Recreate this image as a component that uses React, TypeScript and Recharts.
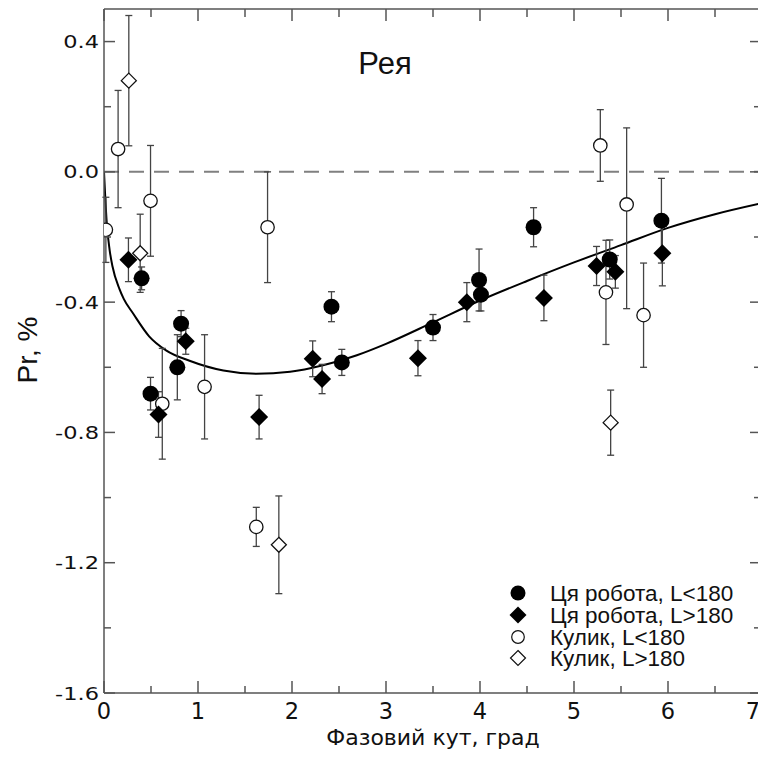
import React from "react";
import {
  ComposedChart,
  XAxis,
  YAxis,
  Scatter,
  Line,
  ErrorBar,
  ReferenceLine,
  Legend,
} from "recharts";

// ---- Data ----
// Ця робота, L<180 (filled circles)
const ourLowX = [0.40, 0.495, 0.78, 0.82, 2.42, 2.53, 3.50, 3.99, 4.01, 4.57, 5.38, 5.93];
const ourLowY = [-0.327, -0.681, -0.60, -0.466, -0.414, -0.585, -0.478, -0.332, -0.377, -0.17, -0.269, -0.15];
const ourLowErr = [0.035, 0.05, 0.1, 0.04, 0.046, 0.04, 0.04, 0.095, 0.05, 0.06, 0.06, 0.13];

// Ця робота, L>180 (filled diamonds)
const ourHighX = [0.26, 0.58, 0.87, 1.65, 2.22, 2.32, 3.34, 3.86, 4.68, 5.24, 5.44, 5.94];
const ourHighY = [-0.27, -0.745, -0.52, -0.753, -0.574, -0.636, -0.572, -0.40, -0.387, -0.289, -0.307, -0.25];
const ourHighErr = [0.067, 0.07, 0.04, 0.067, 0.055, 0.045, 0.054, 0.06, 0.07, 0.06, 0.05, 0.1];

// Кулик, L<180 (open circles)
const kulikLowX = [0.02, 0.15, 0.495, 0.62, 1.07, 1.62, 1.74, 5.28, 5.34, 5.56, 5.74];
const kulikLowY = [-0.178, 0.07, -0.089, -0.712, -0.66, -1.09, -0.17, 0.081, -0.37, -0.10, -0.44];
const kulikLowErrLo = [0.1, 0.18, 0.17, 0.17, 0.16, 0.06, 0.17, 0.11, 0.16, 0.32, 0.16];
const kulikLowErrHi = [0.1, 0.18, 0.17, 0.17, 0.16, 0.06, 0.17, 0.11, 0.16, 0.235, 0.16];

// Кулик, L>180 (open diamonds)
const kulikHighX = [0.264, 0.385, 1.86, 5.39];
const kulikHighY = [0.28, -0.25, -1.145, -0.77];
const kulikHighErr = [0.2, 0.12, 0.15, 0.1];

// Fitted curve
const curveX = [0, 0.01, 0.03, 0.06, 0.09, 0.165, 0.21, 0.31, 0.48, 0.66, 0.91, 1.27, 1.62, 1.98, 2.33, 2.69, 3.0, 3.5, 4.0, 4.5, 5.0, 5.5, 6.0, 6.5, 7.0];
const curveY = [0.0, -0.06, -0.16, -0.24, -0.29, -0.36, -0.39, -0.435, -0.505, -0.548, -0.58, -0.61, -0.62, -0.614, -0.594, -0.563, -0.528, -0.462, -0.395, -0.335, -0.278, -0.225, -0.172, -0.13, -0.096];

// Axis ticks
const xTicks = [0, 0.5, 1, 1.5, 2, 2.5, 3, 3.5, 4, 4.5, 5, 5.5, 6, 6.5, 7];
const yTicks = [-1.6, -1.4, -1.2, -1.0, -0.8, -0.6, -0.4, -0.2, 0.0, 0.2, 0.4];

const legendLabels = [
  "Ця робота, L<180",
  "Ця робота, L>180",
  "Кулик, L<180",
  "Кулик, L>180",
];
const titleText = "Рея";
const xTitle = "Фазовий кут, град";
const yTitle = "Pr, %";

// ---- Build tables ----
const ourLow = ourLowX.map((x, i) => ({ x, y: ourLowY[i], err: ourLowErr[i] }));
const ourHigh = ourHighX.map((x, i) => ({ x, y: ourHighY[i], err: ourHighErr[i] }));
const kulikLow = kulikLowX.map((x, i) => ({ x, y: kulikLowY[i], err: [kulikLowErrLo[i], kulikLowErrHi[i]] }));
const kulikHigh = kulikHighX.map((x, i) => ({ x, y: kulikHighY[i], err: kulikHighErr[i] }));
const curve = curveX.map((x, i) => ({ x, y: curveY[i] }));

// ---- Styles ----
const AXIS = "#555";
const ERR = "#444";
const SANS = "'Liberation Sans', Arial, sans-serif";
const DV = "'DejaVu Sans', sans-serif";

const isMajorX = (v: number) => Math.abs(v - Math.round(v)) < 1e-6;
const isMajorY = (v: number) => Math.abs(v / 0.4 - Math.round(v / 0.4)) < 1e-6;
const fmtY = (v: number) => (Math.abs(v) < 1e-9 ? "0.0" : v.toFixed(1));

const BottomTick = (props: any) => {
  const { x, y, payload } = props;
  const v = payload.value;
  const major = isMajorX(v);
  const tx = v >= 7 ? x - 9 : x;
  return (
    <g>
      <line x1={x} x2={x} y1={y} y2={y - (major ? 12 : 7)} stroke={AXIS} strokeWidth={1.5} />
      {major && (
        <text x={tx} y={y + 26} textAnchor="middle" fontFamily={DV} fontSize={22.5} fill="#111">
          {String(v)}
        </text>
      )}
    </g>
  );
};

const TopTick = (props: any) => {
  const { x, y, payload } = props;
  const major = isMajorX(payload.value);
  return <line x1={x} x2={x} y1={y} y2={y + (major ? 12 : 8)} stroke={AXIS} strokeWidth={1.5} />;
};

const LeftTick = (props: any) => {
  const { x, y, payload } = props;
  const major = isMajorY(payload.value);
  return (
    <g>
      <line x1={x} x2={x + (major ? 11 : 7)} y1={y} y2={y} stroke={AXIS} strokeWidth={1.5} />
      {major && (
        <text
          transform={`translate(${x - 5},${y + 6.5}) scale(1.25,1)`}
          textAnchor="end"
          fontFamily={DV}
          fontSize={18}
          fill="#111"
        >
          {fmtY(payload.value)}
        </text>
      )}
    </g>
  );
};

const RightTick = (props: any) => {
  const { x, y, payload } = props;
  const major = isMajorY(payload.value);
  return <line x1={x} x2={x - (major ? 12 : 8)} y1={y} y2={y} stroke={AXIS} strokeWidth={1.5} />;
};

// ---- Marker shapes ----
const FilledCircle = (p: any) => <circle cx={p.cx} cy={p.cy} r={8} fill="#000" />;
const FilledDiamond = (p: any) => (
  <path d={`M${p.cx},${p.cy - 9} L${p.cx + 9},${p.cy} L${p.cx},${p.cy + 9} L${p.cx - 9},${p.cy} Z`} fill="#000" />
);
const OpenCircle = (p: any) => (
  <circle cx={p.cx} cy={p.cy} r={6.7} fill="#fff" stroke="#111" strokeWidth={1.3} />
);
const OpenDiamond = (p: any) => (
  <path
    d={`M${p.cx},${p.cy - 7.5} L${p.cx + 7.5},${p.cy} L${p.cx},${p.cy + 7.5} L${p.cx - 7.5},${p.cy} Z`}
    fill="#fff"
    stroke="#111"
    strokeWidth={1.3}
  />
);
const NoShape = () => <g />;

const LegendBox = () => {
  const rows = [13, 35, 57, 78];
  const cx = 12;
  return (
    <svg width={250} height={92} style={{ display: "block" }}>
      <circle cx={cx} cy={rows[0]} r={7.5} fill="#000" />
      <path d={`M${cx},${rows[1] - 8.5} L${cx + 8.5},${rows[1]} L${cx},${rows[1] + 8.5} L${cx - 8.5},${rows[1]} Z`} fill="#000" />
      <circle cx={cx} cy={rows[2]} r={6.3} fill="#fff" stroke="#111" strokeWidth={1.2} />
      <path
        d={`M${cx},${rows[3] - 7.5} L${cx + 7.5},${rows[3]} L${cx},${rows[3] + 7.5} L${cx - 7.5},${rows[3]} Z`}
        fill="#fff"
        stroke="#111"
        strokeWidth={1.2}
      />
      {legendLabels.map((t, i) => (
        <text key={t} x={44} y={rows[i] + 8} fontFamily={SANS} fontSize={22.5} fill="#111">
          {t}
        </text>
      ))}
    </svg>
  );
};

export default function App() {
  const W = 758;
  const H = 754;
  return (
    <div style={{ position: "relative", width: W, height: H }}>
      <ComposedChart width={W} height={H} margin={{ top: 0, right: 3, bottom: 0, left: 0 }}>
        <XAxis
          xAxisId={0}
          dataKey="x"
          type="number"
          domain={[0, 7]}
          ticks={xTicks}
          interval={0}
          allowDataOverflow
          height={69}
          tickSize={0}
          tickMargin={0}
          tickLine={false}
          axisLine={{ stroke: AXIS, strokeWidth: 1.5 }}
          tick={(p: any) => <BottomTick {...p} />}
          label={{
            content: (p: any) => {
              const vb = p.viewBox || { x: 96, y: 685, width: 658 };
              return (
                <text x={vb.x + vb.width / 2} y={vb.y + 52} textAnchor="middle" fontFamily={DV} fontSize={22} fill="#111">
                  {xTitle}
                </text>
              );
            },
          }}
        />
        <XAxis
          xAxisId="top"
          dataKey="x"
          orientation="top"
          type="number"
          domain={[0, 7]}
          ticks={xTicks}
          interval={0}
          allowDataOverflow
          height={1}
          tickSize={0}
          tickMargin={0}
          tickLine={false}
          axisLine={{ stroke: AXIS, strokeWidth: 1.5 }}
          tick={(p: any) => <TopTick {...p} />}
        />
        <YAxis
          yAxisId={0}
          dataKey="y"
          type="number"
          domain={[-1.6, 0.5]}
          ticks={yTicks}
          interval={0}
          allowDataOverflow
          width={96}
          tickSize={0}
          tickMargin={0}
          tickLine={false}
          axisLine={{ stroke: AXIS, strokeWidth: 1.5 }}
          tick={(p: any) => <LeftTick {...p} />}
          label={{
            content: () => (
              <text
                x={29}
                y={342}
                transform="rotate(-90, 29, 342)"
                textAnchor="middle"
                fontFamily={SANS}
                fontSize={28}
                fill="#111"
              >
                {yTitle}
              </text>
            ),
          }}
        />
        <YAxis
          yAxisId="right"
          dataKey="y"
          orientation="right"
          type="number"
          domain={[-1.6, 0.5]}
          ticks={yTicks}
          interval={0}
          allowDataOverflow
          width={1}
          tickSize={0}
          tickMargin={0}
          tickLine={false}
          axisLine={{ stroke: AXIS, strokeWidth: 1.5 }}
          tick={(p: any) => <RightTick {...p} />}
        />
        <ReferenceLine y={0} stroke="#808080" strokeWidth={2} strokeDasharray="15 10" />
        <Scatter
          data={curve}
          xAxisId="top"
          yAxisId="right"
          dataKey="y"
          shape={() => <NoShape />}
          legendType="none"
          isAnimationActive={false}
        />
        <Line
          data={curve}
          dataKey="y"
          type="monotone"
          stroke="#000"
          strokeWidth={2}
          dot={false}
          activeDot={false}
          isAnimationActive={false}
          legendType="none"
        />
        <Scatter data={kulikLow} dataKey="y" shape={(p: any) => <OpenCircle {...p} />} isAnimationActive={false}>
          <ErrorBar dataKey="err" direction="y" width={3.5} stroke={ERR} strokeWidth={1.3} />
        </Scatter>
        <Scatter data={kulikHigh} dataKey="y" shape={(p: any) => <OpenDiamond {...p} />} isAnimationActive={false}>
          <ErrorBar dataKey="err" direction="y" width={3.5} stroke={ERR} strokeWidth={1.3} />
        </Scatter>
        <Scatter data={ourLow} dataKey="y" shape={(p: any) => <FilledCircle {...p} />} isAnimationActive={false}>
          <ErrorBar dataKey="err" direction="y" width={3.5} stroke={ERR} strokeWidth={1.3} />
        </Scatter>
        <Scatter data={ourHigh} dataKey="y" shape={(p: any) => <FilledDiamond {...p} />} isAnimationActive={false}>
          <ErrorBar dataKey="err" direction="y" width={3.5} stroke={ERR} strokeWidth={1.3} />
        </Scatter>
        <Legend
          layout="vertical"
          align="center"
          verticalAlign="middle"
          wrapperStyle={{ left: 498, top: 572, width: 250, height: 92 }}
          content={() => <LegendBox />}
        />
      </ComposedChart>
      <svg
        width={W}
        height={H}
        style={{ position: "absolute", left: 0, top: 0, pointerEvents: "none" }}
      >
        <text x={377} y={66} textAnchor="middle" fontFamily={SANS} fontSize={31} fill="#111">
          {titleText}
        </text>
      </svg>
    </div>
  );
}
